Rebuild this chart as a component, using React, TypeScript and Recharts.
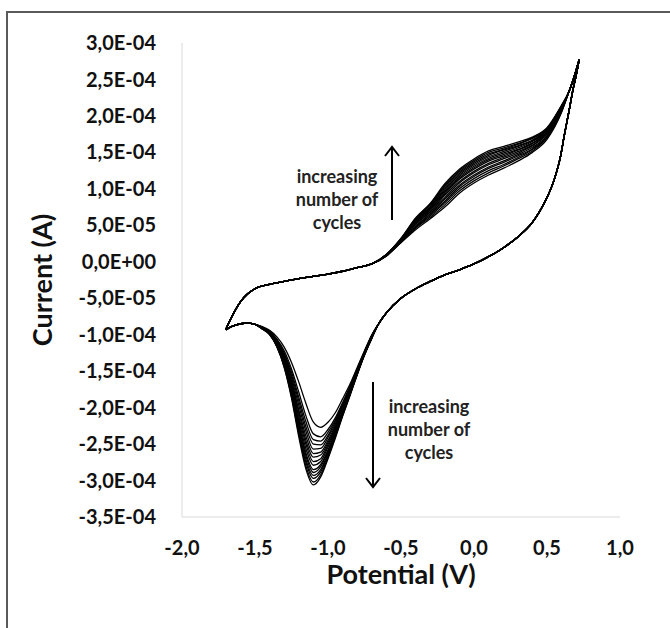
import { LineChart, Line, XAxis, YAxis } from "recharts";

// Cyclic voltammogram, 15 cycles. Potential in V, current in units of 1e-4 A.
const X_TICKS = [-2, -1.5, -1, -0.5, 0, 0.5, 1];
const Y_TICKS = [-3.5, -3, -2.5, -2, -1.5, -1, -0.5, 0, 0.5, 1, 1.5, 2, 2.5, 3];

// cathodic sweep, parts shared by all cycles
const CATH_LEFT_V = [-1.7, -1.65, -1.6, -1.55, -1.5];
const CATH_LEFT_I = [-0.93, -0.88, -0.85, -0.84, -0.86];
const CATH_RIGHT_V = [-0.65, -0.6, -0.5, -0.4, -0.3, -0.2, -0.1, 0, 0.1, 0.2, 0.3, 0.4, 0.45, 0.5, 0.55, 0.59, 0.62, 0.65, 0.68, 0.7, 0.72];
const CATH_RIGHT_I = [-0.84, -0.7, -0.5, -0.37, -0.27, -0.18, -0.11, -0.03, 0.07, 0.19, 0.34, 0.54, 0.69, 0.88, 1.13, 1.42, 1.75, 2.06, 2.38, 2.56, 2.77];

// reduction peak, one row per cycle (grows with cycle number)
const PEAK_V = [-1.45, -1.4, -1.35, -1.3, -1.25, -1.2, -1.15, -1.1, -1.05, -1.0, -0.95, -0.9, -0.85, -0.8, -0.75, -0.7];
const REDUCTION_PEAK = [
	[-0.89, -0.94, -1.03, -1.17, -1.38, -1.65, -1.95, -2.2, -2.27, -2.2, -2.07, -1.88, -1.68, -1.45, -1.22, -1.0],
	[-0.9, -0.95, -1.06, -1.22, -1.47, -1.79, -2.12, -2.36, -2.4, -2.3, -2.14, -1.93, -1.71, -1.47, -1.23, -1.01],
	[-0.9, -0.96, -1.07, -1.25, -1.51, -1.86, -2.2, -2.44, -2.46, -2.34, -2.17, -1.95, -1.72, -1.48, -1.24, -1.01],
	[-0.9, -0.96, -1.08, -1.27, -1.55, -1.91, -2.27, -2.5, -2.51, -2.38, -2.19, -1.96, -1.74, -1.49, -1.24, -1.02],
	[-0.9, -0.97, -1.09, -1.29, -1.59, -1.97, -2.33, -2.57, -2.56, -2.41, -2.22, -1.98, -1.75, -1.49, -1.25, -1.02],
	[-0.91, -0.97, -1.1, -1.31, -1.63, -2.03, -2.4, -2.63, -2.61, -2.45, -2.25, -2.0, -1.76, -1.5, -1.25, -1.02],
	[-0.91, -0.97, -1.11, -1.33, -1.66, -2.07, -2.46, -2.68, -2.65, -2.48, -2.27, -2.02, -1.77, -1.51, -1.25, -1.03],
	[-0.91, -0.98, -1.12, -1.35, -1.69, -2.12, -2.51, -2.74, -2.7, -2.51, -2.29, -2.03, -1.78, -1.51, -1.26, -1.03],
	[-0.91, -0.98, -1.13, -1.36, -1.72, -2.17, -2.57, -2.79, -2.74, -2.54, -2.31, -2.05, -1.79, -1.52, -1.26, -1.03],
	[-0.91, -0.99, -1.14, -1.38, -1.75, -2.21, -2.63, -2.85, -2.78, -2.58, -2.33, -2.06, -1.8, -1.53, -1.27, -1.04],
	[-0.91, -0.99, -1.14, -1.39, -1.77, -2.25, -2.67, -2.89, -2.81, -2.6, -2.35, -2.07, -1.81, -1.53, -1.27, -1.04],
	[-0.92, -0.99, -1.15, -1.41, -1.8, -2.29, -2.72, -2.93, -2.85, -2.63, -2.37, -2.08, -1.82, -1.54, -1.27, -1.04],
	[-0.92, -0.99, -1.16, -1.42, -1.82, -2.33, -2.76, -2.97, -2.88, -2.65, -2.39, -2.1, -1.82, -1.54, -1.27, -1.04],
	[-0.92, -1.0, -1.16, -1.44, -1.85, -2.36, -2.81, -3.02, -2.92, -2.68, -2.4, -2.11, -1.83, -1.55, -1.28, -1.05],
	[-0.92, -1.0, -1.17, -1.45, -1.87, -2.4, -2.85, -3.06, -2.95, -2.7, -2.42, -2.12, -1.84, -1.55, -1.28, -1.05],
];

// anodic sweep, parts shared by all cycles
const ANOD_LEFT_V = [-1.7, -1.68, -1.65, -1.6, -1.55, -1.5, -1.4, -1.3, -1.2, -1.1, -1.0, -0.9, -0.8, -0.7];
const ANOD_LEFT_I = [-0.93, -0.84, -0.72, -0.55, -0.44, -0.37, -0.31, -0.27, -0.23, -0.2, -0.17, -0.13, -0.08, -0.03];
const ANOD_RIGHT_V = [0.65, 0.68, 0.7, 0.72];
const ANOD_RIGHT_I = [2.33, 2.5, 2.63, 2.77];

// oxidation hump, one row per cycle
const HUMP_V = [-0.6, -0.5, -0.4, -0.3, -0.2, -0.1, 0, 0.1, 0.2, 0.3, 0.4, 0.5, 0.6];
const OXIDATION_HUMP = [
	[0.08, 0.26, 0.44, 0.59, 0.75, 0.94, 1.08, 1.19, 1.28, 1.38, 1.5, 1.68, 2.05],
	[0.08, 0.27, 0.46, 0.61, 0.78, 0.97, 1.11, 1.22, 1.31, 1.41, 1.52, 1.7, 2.06],
	[0.08, 0.27, 0.47, 0.63, 0.81, 1.0, 1.14, 1.25, 1.33, 1.43, 1.54, 1.71, 2.07],
	[0.09, 0.28, 0.48, 0.65, 0.83, 1.03, 1.17, 1.28, 1.36, 1.45, 1.55, 1.72, 2.08],
	[0.09, 0.28, 0.49, 0.66, 0.86, 1.05, 1.19, 1.3, 1.38, 1.47, 1.57, 1.73, 2.08],
	[0.09, 0.29, 0.51, 0.68, 0.88, 1.08, 1.22, 1.33, 1.41, 1.49, 1.59, 1.75, 2.09],
	[0.09, 0.29, 0.52, 0.69, 0.91, 1.1, 1.24, 1.35, 1.43, 1.51, 1.6, 1.76, 2.1],
	[0.09, 0.29, 0.53, 0.71, 0.93, 1.13, 1.27, 1.38, 1.45, 1.53, 1.62, 1.77, 2.11],
	[0.09, 0.3, 0.54, 0.72, 0.95, 1.15, 1.29, 1.4, 1.47, 1.54, 1.63, 1.78, 2.11],
	[0.09, 0.3, 0.55, 0.74, 0.97, 1.17, 1.31, 1.42, 1.49, 1.56, 1.65, 1.79, 2.12],
	[0.1, 0.31, 0.56, 0.75, 0.99, 1.19, 1.33, 1.44, 1.51, 1.58, 1.66, 1.8, 2.13],
	[0.1, 0.31, 0.57, 0.76, 1.01, 1.21, 1.35, 1.46, 1.53, 1.59, 1.67, 1.81, 2.13],
	[0.1, 0.31, 0.58, 0.78, 1.03, 1.23, 1.37, 1.48, 1.54, 1.61, 1.69, 1.82, 2.14],
	[0.1, 0.32, 0.59, 0.79, 1.05, 1.25, 1.39, 1.5, 1.56, 1.62, 1.7, 1.83, 2.14],
	[0.1, 0.32, 0.6, 0.8, 1.07, 1.27, 1.41, 1.52, 1.58, 1.64, 1.71, 1.84, 2.15],
];

const zip = (v: number[], cur: number[]) => v.map((x, k) => ({ v: x, i: cur[k] }));

const cycles = REDUCTION_PEAK.map((peak, k) => ({
	cathodic: [...zip(CATH_LEFT_V, CATH_LEFT_I), ...zip(PEAK_V, peak), ...zip(CATH_RIGHT_V, CATH_RIGHT_I)],
	anodic: [...zip(ANOD_LEFT_V, ANOD_LEFT_I), ...zip(HUMP_V, OXIDATION_HUMP[k]), ...zip(ANOD_RIGHT_V, ANOD_RIGHT_I)],
}));

const FONT = "Lato, 'Open Sans', sans-serif";
const tickStyle = { fontFamily: FONT, fontWeight: 700, fontSize: 20, fill: "#111" };
const titleStyle = { fontFamily: FONT, fontWeight: 700, fontSize: 27, fill: "#111" };

const fmtX = (t: number) => t.toFixed(1).replace(".", ",");
const fmtY = (t: number) => {
	const [m, e] = (t * 1e-4).toExponential(1).split("e");
	const sign = e[0] === "-" ? "-" : "+";
	return `${m.replace(".", ",")}E${sign}${e.replace(/[+-]/, "").padStart(2, "0")}`;
};

const Note = ({ x, y }: { x: number; y: number }) => (
	<text x={x} y={y} textAnchor="middle" fontFamily={FONT} fontWeight={700} fontSize={18} fill="#222">
		<tspan x={x} dy={0}>increasing</tspan>
		<tspan x={x} dy={23}>number of</tspan>
		<tspan x={x} dy={23}>cycles</tspan>
	</text>
);

export default function App() {
	return (
		<div style={{ position: "absolute", left: 0, top: 0, width: 670, height: 628, background: "#fff", overflow: "hidden" }}>
			<div
				style={{
					position: "absolute",
					left: 6,
					top: 11,
					width: 700,
					height: 700,
					borderLeft: "2px solid #5a5a5a",
					borderTop: "2px solid #5a5a5a",
				}}
			/>
			<LineChart width={670} height={628} margin={{ top: 43, right: 50, left: 0, bottom: 0 }}>
				<XAxis
					type="number"
					dataKey="v"
					domain={[-2, 1]}
					ticks={X_TICKS}
					tickFormatter={fmtX}
					tick={tickStyle}
					tickLine={false}
					tickSize={0}
					tickMargin={24}
					height={111}
					stroke="#d9d9d9"
					allowDataOverflow
					label={{ value: "Potential (V)", position: "insideTop", offset: 48, style: titleStyle }}
				/>
				<YAxis
					type="number"
					domain={[-3.5, 3]}
					ticks={Y_TICKS}
					tickFormatter={fmtY}
					tick={tickStyle}
					tickLine={false}
					tickSize={0}
					tickMargin={26}
					width={182}
					stroke="#d9d9d9"
					allowDataOverflow
					label={{
						value: "Current (A)",
						angle: -90,
						position: "insideLeft",
						offset: 42,
						style: { ...titleStyle, textAnchor: "middle" },
					}}
				/>
				{cycles.flatMap((c, k) => [
					<Line
						key={`c${k}`}
						data={c.cathodic}
						dataKey="i"
						type="monotone"
						stroke="#000"
						strokeWidth={1.3}
						dot={false}
						isAnimationActive={false}
					/>,
					<Line
						key={`a${k}`}
						data={c.anodic}
						dataKey="i"
						type="monotone"
						stroke="#000"
						strokeWidth={1.3}
						dot={false}
						isAnimationActive={false}
					/>,
				])}
			</LineChart>
			<svg width={670} height={628} style={{ position: "absolute", left: 0, top: 0, pointerEvents: "none" }}>
				<Note x={337} y={183} />
				<g stroke="#000" strokeWidth={2} fill="none">
					<line x1={392} y1={220} x2={392} y2={148} />
					<polyline points="385,156 392,147 399,156" />
				</g>
				<Note x={429} y={413} />
				<g stroke="#000" strokeWidth={2} fill="none">
					<line x1={373} y1={382} x2={373} y2={486} />
					<polyline points="366,478 373,487 380,478" />
				</g>
			</svg>
		</div>
	);
}
